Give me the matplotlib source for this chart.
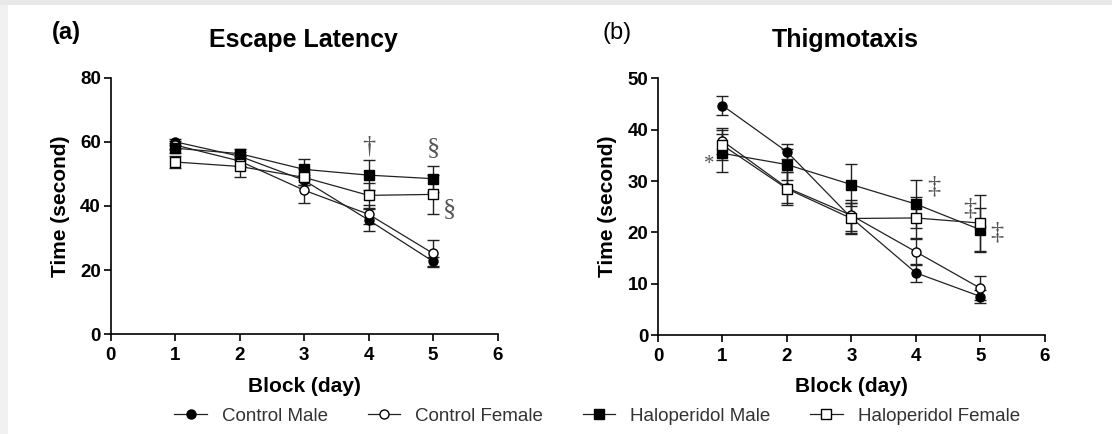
import matplotlib
matplotlib.use('Agg')
import matplotlib.pyplot as plt
from matplotlib.lines import Line2D
from matplotlib.patches import Rectangle

# Basic style: Arial-like fonts, bold ticks like GraphPad output
plt.rcParams['font.family'] = ['Liberation Sans', 'DejaVu Sans']
plt.rcParams['axes.linewidth'] = 1.2

# Data
days = [1, 2, 3, 4, 5]
groups = ['Control Male', 'Control Female', 'Haloperidol Male', 'Haloperidol Female']

# (a) Escape latency (seconds)
cm_a = [60.0, 55.5, 48.0, 35.6, 22.7]
cf_a = [59.0, 54.0, 44.9, 37.4, 25.2]
hm_a = [58.0, 56.3, 51.4, 49.6, 48.5]
hf_a = [53.7, 52.3, 48.9, 43.3, 43.6]
cm_a_err = [1.0, 1.2, 1.5, 3.3, 1.5]
cf_a_err = [1.2, 1.5, 4.0, 3.0, 4.1]
hm_a_err = [1.5, 1.3, 3.2, 4.6, 4.1]
hf_a_err = [2.0, 3.3, 2.5, 4.0, 6.0]

# (b) Thigmotaxis (seconds)
cm_b = [44.7, 35.7, 22.8, 12.1, 7.5]
cf_b = [37.8, 28.7, 23.3, 16.2, 9.1]
hm_b = [35.4, 33.2, 29.3, 25.5, 20.5]
hf_b = [37.0, 28.5, 22.7, 22.8, 21.8]
cm_b_err = [1.8, 1.5, 3.0, 1.7, 1.2]
cf_b_err = [2.5, 3.0, 3.0, 2.5, 2.3]
hm_b_err = [3.7, 3.0, 4.1, 4.6, 4.3]
hf_b_err = [3.0, 3.2, 3.0, 4.0, 5.5]

# Significance marks: (x, y, symbol)
marks_a = [(4.0, 58.5, '†'), (5.0, 58.0, '§'), (5.25, 39.0, '§')]
marks_b = [(0.8, 33.3, '*'), (4.27, 29.0, '‡'), (4.84, 24.6, '‡'), (5.25, 20.0, '‡')]

# marker style per group: (marker, face colour)
styles = [('o', 'black'), ('o', 'white'), ('s', 'black'), ('s', 'white')]

fig = plt.figure(figsize=(11.12, 4.34), dpi=100)

# light grey frame along top and left edge (screenshot shadow)
fig.patches.append(Rectangle((0, 1 - 5 / 434), 1, 5 / 434, transform=fig.transFigure,
                             facecolor='#e9e9e9', edgecolor='none'))
fig.patches.append(Rectangle((0, 0), 8 / 1112, 1 - 5 / 434, transform=fig.transFigure,
                             facecolor='#f1f1f1', edgecolor='none'))

ax1 = fig.add_axes([0.0995, 0.2297, 0.348, 0.5915])
ax2 = fig.add_axes([0.5917, 0.2281, 0.348, 0.5914])


def draw_panel(ax, series, errs, ymax, ystep, marks):
    for vals, err, (mk, fc) in zip(series, errs, styles):
        ax.errorbar(days, vals, yerr=err, color='#222222', lw=0.9,
                    marker=mk, ms=6.5, mfc=fc, mec='black', mew=1.0,
                    elinewidth=1.0, capsize=4, capthick=1.0, clip_on=False)
    for x, y, s in marks:
        size = 15 if s == '*' else 19
        ax.text(x, y, s, ha='center', va='center', fontsize=size, color='#555555',
                family=['Liberation Serif', 'DejaVu Serif'])
    ax.set_xlim(0, 6)
    ax.set_ylim(0, ymax)
    ax.set_xticks(range(0, 7))
    ax.set_yticks(range(0, ymax + 1, ystep))
    ax.spines['top'].set_visible(False)
    ax.spines['right'].set_visible(False)
    ax.tick_params(direction='out', length=5, width=1.2, labelsize=13.5)
    ax.tick_params(axis='x', pad=4)
    ax.tick_params(axis='y', pad=2)
    for lab in ax.get_xticklabels() + ax.get_yticklabels():
        lab.set_fontweight('bold')
    ax.set_xlabel('Block (day)', fontsize=15, fontweight='bold')
    ax.set_ylabel('Time (second)', fontsize=15, fontweight='bold')
    ax.xaxis.set_label_coords(0.5, -0.165)
    ax.yaxis.set_label_coords(-0.106, 0.5)


draw_panel(ax1, [cm_a, cf_a, hm_a, hf_a], [cm_a_err, cf_a_err, hm_a_err, hf_a_err], 80, 20, marks_a)
draw_panel(ax2, [cm_b, cf_b, hm_b, hf_b], [cm_b_err, cf_b_err, hm_b_err, hf_b_err], 50, 10, marks_b)

# Titles and panel letters
fig.text(0.047, 0.924, '(a)', fontsize=17, fontweight='bold', va='center')
fig.text(0.273, 0.908, 'Escape Latency', fontsize=18, fontweight='bold', ha='center', va='center')
fig.text(0.542, 0.924, '(b)', fontsize=17, va='center')
fig.text(0.760, 0.908, 'Thigmotaxis', fontsize=18, fontweight='bold', ha='center', va='center')

# Shared legend at the bottom
handles = [Line2D([0], [0], color='#222222', lw=0.9, marker=mk, ms=6.5, mfc=fc, mec='black')
           for mk, fc in styles]
leg = fig.legend(handles, groups, loc='center', bbox_to_anchor=(0.537, 0.041), ncol=4,
                 frameon=False, fontsize=13.5, handlelength=1.75, columnspacing=2.1,
                 handletextpad=0.8)
for t in leg.get_texts():
    t.set_color('#333333')

fig.savefig('out.png', dpi=100)
